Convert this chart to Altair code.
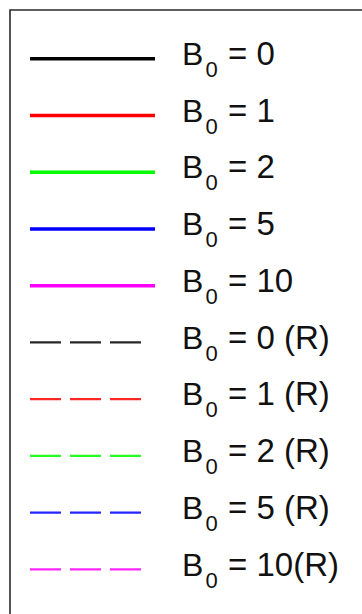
import altair as alt
import pandas as pd

# Legend entries: B0 value for each row and whether it is the (R) series
b0_values = ["0", "1", "2", "5", "10", "0", "1", "2", "5", "10"]
series_kind = ["model", "model", "model", "model", "model", "R", "R", "R", "R", "R"]
tail_text = ["= 0", "= 1", "= 2", "= 5", "= 10",
             "= 0 (R)", "= 1 (R)", "= 2 (R)", "= 5 (R)", "= 10(R)"]

b0_levels = ["0", "1", "2", "5", "10"]
b0_colors = ["#000000", "#ff0000", "#00ff00", "#0000ff", "#ff00ff"]

df = pd.DataFrame({
    "row": list(range(len(b0_values))),
    "b0": b0_values,
    "kind": series_kind,
    "tail": tail_text,
})

W, H = 362, 614
FONT = "Liberation Sans"

y_enc = alt.Y("row:O", scale=alt.Scale(type="point", range=[58.7, 569.3], padding=0), axis=None)
color_enc = alt.Color("b0:N", scale=alt.Scale(domain=b0_levels, range=b0_colors), legend=None)

base = alt.Chart(df)

# frame around the legend
frame = alt.Chart(pd.DataFrame({"k": [0]})).mark_rect(
    fill="white", stroke="#2a2a2a", strokeWidth=1.6
).encode(
    x=alt.value(10), x2=alt.value(W + 20),
    y=alt.value(10), y2=alt.value(H + 20),
)

solid = base.transform_filter(alt.datum.kind == "model").mark_rule(
    strokeWidth=3.5, strokeCap="butt"
).encode(
    x=alt.value(30), x2=alt.value(155), y=y_enc, color=color_enc,
)

dashed = base.transform_filter(alt.datum.kind == "R").mark_rule(
    strokeWidth=2.2, strokeDash=[31, 9], strokeCap="butt", opacity=0.85
).encode(
    x=alt.value(30), x2=alt.value(143), y=y_enc, color=color_enc,
)

letter = base.mark_text(
    text="B", font=FONT, fontSize=32, align="left", baseline="alphabetic",
    dy=6.3, color="#111111"
).encode(x=alt.value(182), y=y_enc)

subscript = base.mark_text(
    text="0", font=FONT, fontSize=22, align="left", baseline="alphabetic",
    dy=18.3, color="#111111"
).encode(x=alt.value(205.5), y=y_enc)

tail = base.mark_text(
    font=FONT, fontSize=33, align="left", baseline="alphabetic",
    dy=6.3, color="#111111"
).encode(x=alt.value(228), y=y_enc, text="tail:N")

chart = alt.layer(frame, solid, dashed, letter, subscript, tail).properties(
    width=W, height=H, padding=0, autosize=alt.AutoSizeParams(type="none"),
    background="white",
).configure_view(stroke=None)

chart.save("out.html", embed_options={"renderer": "svg", "actions": False})
